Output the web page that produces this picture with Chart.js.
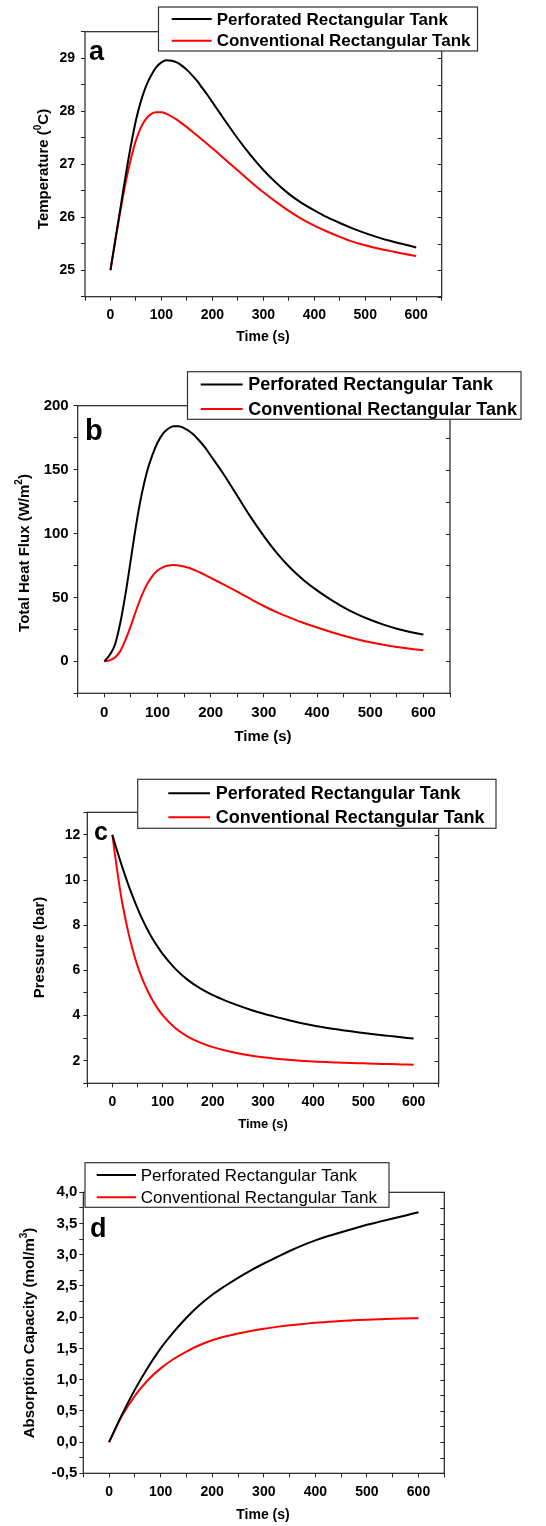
<!DOCTYPE html>
<html><head><meta charset="utf-8">
<script src="https://cdn.jsdelivr.net/npm/chart.js@4.4.0/dist/chart.umd.min.js"></script>
<style>
html,body{margin:0;padding:0;background:#fff;}
#wrap{position:relative;width:546px;height:1526px;overflow:hidden;background:#fff;}
canvas{position:absolute;left:0;}
</style></head><body><div id="wrap">
<canvas id="ca" width="546" height="365" style="top:0px"></canvas>
<canvas id="cb" width="546" height="390" style="top:365px"></canvas>
<canvas id="cc" width="546" height="385" style="top:755px"></canvas>
<canvas id="cd" width="546" height="386" style="top:1140px"></canvas>
</div>
<script>
// ---------- data ----------
const seriesNames = ['Perforated Rectangular Tank', 'Conventional Rectangular Tank'];
const seriesColors = ['#000000', '#ff0000'];

const xTickLabels = [0, 100, 200, 300, 400, 500, 600];

// (a) Temperature (°C)
const timeA = [0,10,20,30,40,50,60,70,80,90,100,110,120,130,140,150,160,170,180,190,200,225,250,275,300,325,350,375,400,425,450,475,500,525,550,575,600];
const perfTemp = [25,25.6,26.2,26.8,27.35,27.83,28.2,28.48,28.68,28.83,28.92,28.96,28.95,28.92,28.86,28.78,28.68,28.57,28.44,28.31,28.17,27.82,27.48,27.17,26.89,26.65,26.44,26.27,26.13,26.0,25.89,25.79,25.7,25.62,25.55,25.49,25.43];
const convTemp = [25,25.6,26.15,26.67,27.1,27.45,27.7,27.86,27.95,27.98,27.98,27.95,27.9,27.84,27.77,27.7,27.62,27.54,27.46,27.38,27.3,27.09,26.88,26.67,26.47,26.29,26.12,25.97,25.84,25.73,25.63,25.54,25.47,25.41,25.36,25.31,25.27];
const yTicksA = [25, 26, 27, 28, 29];

// (b) Total heat flux (W/m2)
const timeB = [0,10,20,30,40,50,60,70,80,90,100,110,120,130,140,150,160,170,180,190,200,225,250,275,300,325,350,375,400,425,450,475,500,525,550,575,600];
const perfFlux = [0,5,13,30,53,80,107,130,148,161,171,178,182,184,184,182.5,180,176.5,172,167,161,146,129.5,113,98,84.5,73,63.5,55.5,48.5,42.3,37,32.5,28.7,25.5,23,21];
const convFlux = [0,0.8,3,8,17,28,40,51,60,66.5,71,73.5,75,75.3,75,74.2,73,71.4,69.5,67.5,65.3,60,54.5,48.8,43.3,38.3,34,30,26.5,23.2,20,17.3,14.9,12.9,11.2,9.8,8.6];
const yTicksB = [0, 50, 100, 150, 200];

// (c) Pressure (bar)
const timeC = [0,5,10,15,20,30,40,50,60,70,80,90,100,125,150,175,200,225,250,275,300,325,350,375,400,425,450,475,500,525,550,575,600];
const perfPress = [12,11.62,11.25,10.9,10.55,9.9,9.3,8.75,8.25,7.8,7.4,7.05,6.73,6.08,5.58,5.2,4.9,4.66,4.45,4.26,4.09,3.94,3.8,3.67,3.56,3.46,3.38,3.3,3.23,3.16,3.1,3.04,2.98];
const convPress = [12,11.15,10.35,9.6,8.95,7.85,6.95,6.2,5.6,5.1,4.68,4.32,4.02,3.45,3.07,2.8,2.6,2.45,2.33,2.23,2.15,2.09,2.04,2.0,1.97,1.94,1.92,1.9,1.885,1.87,1.85,1.835,1.82];
const yTicksC = [2, 4, 6, 8, 10, 12];

// (d) Absorption capacity (mol/m3)
const timeD = [0,25,50,75,100,125,150,175,200,225,250,275,300,325,350,375,400,425,450,475,500,525,550,575,600];
const perfAbs = [0,0.44,0.84,1.19,1.5,1.76,1.99,2.19,2.36,2.5,2.63,2.75,2.86,2.96,3.06,3.15,3.23,3.3,3.36,3.42,3.48,3.53,3.58,3.63,3.68];
const convAbs = [0,0.42,0.74,0.99,1.18,1.33,1.45,1.55,1.63,1.69,1.74,1.78,1.815,1.845,1.87,1.89,1.91,1.925,1.94,1.95,1.96,1.968,1.975,1.98,1.985];
const yTicksD = [-0.5, 0, 0.5, 1, 1.5, 2, 2.5, 3, 3.5, 4];

// ---------- drawing ----------
const FONT = '"Liberation Sans", Arial, Helvetica, sans-serif';

function isIn(list, v) { return list.some(m => Math.abs(m - v) < 1e-6); }

function drawSegs(ctx, segs, size, cx, cy, rot) {
  ctx.save();
  ctx.translate(cx, cy);
  if (rot) ctx.rotate(-Math.PI / 2);
  ctx.fillStyle = '#000';
  ctx.textBaseline = 'middle';
  ctx.textAlign = 'left';
  const supSize = Math.round(size * 0.68);
  let w = 0;
  const ws = segs.map(s => { ctx.font = 'bold ' + (s.sup ? supSize : size) + 'px ' + FONT; const m = ctx.measureText(s.t).width; w += m; return m; });
  let x = -w / 2;
  segs.forEach((s, i) => {
    ctx.font = 'bold ' + (s.sup ? supSize : size) + 'px ' + FONT;
    ctx.fillText(s.t, x, s.sup ? -size * 0.38 : 0);
    x += ws[i];
  });
  ctx.restore();
}

function makeChart(p) {
  const canvas = document.getElementById(p.id);
  const padTop = p.plot.t - p.top;
  const padRight = 546 - p.plot.r;
  const xH = p.top + p.h - p.plot.b;
  const yW = p.plot.l;
  const tickFont = (s) => ({ family: FONT, size: s, weight: 'bold' });

  const panelPlugin = {
    id: 'panel_' + p.id,
    afterDraw(chart) {
      const ctx = chart.ctx;
      const a = chart.chartArea;
      const off = p.top;
      ctx.save();
      // frame
      ctx.strokeStyle = '#222';
      ctx.lineWidth = 1.2;
      ctx.strokeRect(a.left, a.top, a.right - a.left, a.bottom - a.top);
      // inward ticks on right axis
      const ys = chart.scales.y;
      ctx.lineWidth = 1;
      ys.ticks.forEach(tk => {
        const py = Math.round(ys.getPixelForValue(tk.value)) + 0.5;
        ctx.beginPath(); ctx.moveTo(a.right - 4, py); ctx.lineTo(a.right, py); ctx.stroke();
      });
      // legend box
      const L = p.legend;
      ctx.fillStyle = '#fff';
      ctx.fillRect(L.x, L.y - off, L.w, L.h);
      ctx.strokeStyle = '#333';
      ctx.lineWidth = 1.2;
      ctx.strokeRect(L.x, L.y - off, L.w, L.h);
      chart.data.datasets.forEach((ds, i) => {
        const ry = L.rows[i] - off;
        ctx.strokeStyle = ds.borderColor;
        ctx.lineWidth = 2;
        ctx.beginPath(); ctx.moveTo(L.sx1, ry); ctx.lineTo(L.sx2, ry); ctx.stroke();
        ctx.fillStyle = '#000';
        ctx.font = L.font + ' ' + FONT;
        ctx.textBaseline = 'middle';
        ctx.textAlign = 'left';
        ctx.fillText(ds.label, L.tx, ry + 1);
      });
      // panel letter
      ctx.fillStyle = '#000';
      ctx.font = 'bold ' + p.letter.size + 'px ' + FONT;
      ctx.textBaseline = 'alphabetic';
      ctx.textAlign = 'left';
      ctx.fillText(p.letter.t, p.letter.x, p.letter.y - off);
      ctx.restore();
      // axis titles
      drawSegs(ctx, p.xTitle.segs, p.xTitle.size, p.xTitle.cx, p.xTitle.cy - off, false);
      drawSegs(ctx, p.yTitle.segs, p.yTitle.size, p.yTitle.cx, p.yTitle.cy - off, true);
    }
  };

  new Chart(canvas, {
    type: 'line',
    data: {
      datasets: p.series.map((vals, i) => ({
        label: seriesNames[i],
        data: p.t.map((x, j) => ({ x: x, y: vals[j] })),
        borderColor: seriesColors[i],
        backgroundColor: seriesColors[i],
        borderWidth: 2,
        pointRadius: 0,
        fill: false,
        cubicInterpolationMode: 'monotone'
      }))
    },
    options: {
      responsive: false,
      animation: false,
      events: [],
      layout: { padding: { left: 0, right: padRight, top: padTop, bottom: 0 } },
      plugins: { legend: { display: false }, tooltip: { enabled: false } },
      scales: {
        x: {
          type: 'linear', min: -50, max: 650,
          afterFit: (s) => { s.height = xH; },
          border: { display: false },
          grid: { drawOnChartArea: false, drawTicks: true, tickLength: 4, color: '#222', lineWidth: 1 },
          ticks: {
            stepSize: 50, autoSkip: false, maxRotation: 0, minRotation: 0,
            padding: p.xPad, color: '#000', font: tickFont(p.xFont),
            callback: (v) => isIn(xTickLabels, v) ? String(Math.round(v)) : ''
          }
        },
        y: {
          type: 'linear', min: p.y.min, max: p.y.max,
          afterFit: (s) => { s.width = yW; },
          border: { display: false },
          grid: { drawOnChartArea: false, drawTicks: true, tickLength: 4, color: '#222', lineWidth: 1 },
          ticks: {
            stepSize: p.y.step, autoSkip: false,
            padding: p.yPad, color: '#000', font: tickFont(p.yFont),
            callback: (v) => isIn(p.yMajor, v) ? p.fmt(v) : ''
          }
        }
      }
    },
    plugins: [panelPlugin]
  });
}

const panels = [
  {
    id: 'ca', top: 0, h: 365, plot: { l: 85, r: 441.7, t: 31.7, b: 296.7 },
    y: { min: 24.5, max: 29.5, step: 0.5 }, yMajor: yTicksA, fmt: v => String(Math.round(v)),
    t: timeA, series: [perfTemp, convTemp],
    xFont: 14, yFont: 14, xPad: 6, yPad: 6,
    legend: { x: 158.5, y: 7, w: 319, h: 44, sx1: 171.7, sx2: 211.7, tx: 216.7, rows: [19, 40.7], font: 'bold 17px' },
    letter: { t: 'a', x: 89, y: 60, size: 27 },
    xTitle: { cx: 263, cy: 337.5, size: 14, segs: [{ t: 'Time (s)' }] },
    yTitle: { cx: 44, cy: 169, size: 15, segs: [{ t: 'Temperature (' }, { t: '0', sup: true }, { t: 'C)' }] }
  },
  {
    id: 'cb', top: 365, h: 390, plot: { l: 77.7, r: 450, t: 405.7, b: 693.3 },
    y: { min: -25, max: 200, step: 25 }, yMajor: yTicksB, fmt: v => String(Math.round(v)),
    t: timeB, series: [perfFlux, convFlux],
    xFont: 15, yFont: 15, xPad: 7, yPad: 5,
    legend: { x: 187.5, y: 371.7, w: 333.5, h: 47.6, sx1: 200.7, sx2: 242.7, tx: 248.3, rows: [384.5, 409], font: 'bold 18px' },
    letter: { t: 'b', x: 85, y: 440, size: 29 },
    xTitle: { cx: 263, cy: 736.7, size: 15, segs: [{ t: 'Time (s)' }] },
    yTitle: { cx: 25, cy: 553, size: 15, segs: [{ t: 'Total Heat Flux (W/m' }, { t: '2', sup: true }, { t: ')' }] }
  },
  {
    id: 'cc', top: 755, h: 385, plot: { l: 87.3, r: 438.7, t: 812.3, b: 1083.3 },
    y: { min: 1, max: 13, step: 1 }, yMajor: yTicksC, fmt: v => String(Math.round(v)),
    t: timeC, series: [perfPress, convPress],
    xFont: 14, yFont: 14, xPad: 6, yPad: 3,
    legend: { x: 137.7, y: 779.3, w: 358.3, h: 49, sx1: 168.3, sx2: 210, tx: 215.7, rows: [793.3, 817.3], font: 'bold 18px' },
    letter: { t: 'c', x: 94, y: 840, size: 25 },
    xTitle: { cx: 263, cy: 1124, size: 13, segs: [{ t: 'Time (s)' }] },
    yTitle: { cx: 40, cy: 947.5, size: 15, segs: [{ t: 'Pressure (bar)' }] }
  },
  {
    id: 'cd', top: 1140, h: 386, plot: { l: 83.3, r: 444.3, t: 1192.3, b: 1473.3 },
    y: { min: -0.5, max: 4.0, step: 0.25 }, yMajor: yTicksD, fmt: v => v.toFixed(1).replace('.', ','),
    t: timeD, series: [perfAbs, convAbs],
    xFont: 14, yFont: 15, xPad: 6, yPad: 2,
    legend: { x: 85, y: 1162.7, w: 304, h: 44.6, sx1: 96.7, sx2: 136, tx: 140.7, rows: [1175, 1197.3], font: '17px' },
    letter: { t: 'd', x: 90, y: 1237, size: 27 },
    xTitle: { cx: 263, cy: 1515.5, size: 14, segs: [{ t: 'Time (s)' }] },
    yTitle: { cx: 30, cy: 1333, size: 15, segs: [{ t: 'Absorption Capacity (mol/m' }, { t: '3', sup: true }, { t: ')' }] }
  }
];

panels.forEach(makeChart);
</script>
</body></html>
